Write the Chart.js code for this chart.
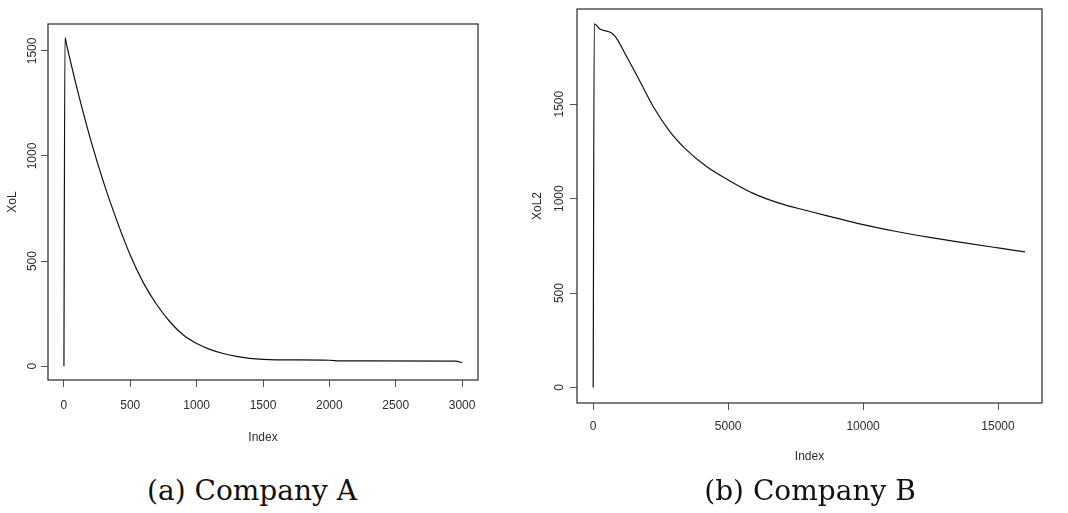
<!DOCTYPE html>
<html>
<head>
<meta charset="utf-8">
<script src="https://cdn.jsdelivr.net/npm/chart.js@4/dist/chart.umd.min.js"></script>
<style>
  html, body { margin: 0; padding: 0; background: #fff; }
  #wrap { position: relative; width: 1068px; height: 513px; overflow: hidden; }
  #cA { position: absolute; left: 0; top: 0; }
  #cB { position: absolute; left: 520px; top: 0; }
  .cap { position: absolute; top: 474px; font-family: 'DejaVu Serif', 'Liberation Serif', serif; font-size: 28px; color: #111; white-space: nowrap; transform: translateX(-50%); }
</style>
</head>
<body>
<div id="wrap">
  <canvas id="cA" width="500" height="460"></canvas>
  <canvas id="cB" width="548" height="480"></canvas>
  <div class="cap" style="left:252px">(a) Company A</div>
  <div class="cap" style="left:810px">(b) Company B</div>
</div>
<script>
// Company A: XoL against index
const idxA = [0, 8, 20, 100, 200, 300, 400, 500, 600, 700, 800, 900, 1000, 1100, 1200, 1300, 1400, 1500, 1600, 2000, 2080, 2950, 3000];
const xolA = [0, 1563, 1530, 1318, 1080, 872, 690, 528, 395, 292, 210, 148, 108, 80, 60, 46, 37, 32, 30, 28, 25, 24, 17];

// Company B: XoL2 against index
const idxB = [0, 40, 250, 680, 860, 1235, 1605, 2223, 2841, 3458, 4199, 5000, 5928, 6916, 7904, 9016, 10004, 11239, 12474, 13709, 15006, 16000];
const xolB = [0, 1926, 1898, 1877, 1850, 1753, 1656, 1488, 1355, 1258, 1170, 1099, 1028, 975, 937, 897, 862, 826, 795, 767, 739, 718];

const xTicksA = [0, 500, 1000, 1500, 2000, 2500, 3000];
const xTicksB = [0, 5000, 10000, 15000];
const yTicks = [0, 500, 1000, 1500];

const NARROW = "'Liberation Sans Narrow', 'Liberation Sans', Arial, sans-serif";
const SANS = "'Liberation Sans', Arial, sans-serif";
const TXT = '#2b2b36';

const boxPlugin = {
  id: 'box',
  afterDatasetsDraw(chart) {
    const { ctx, chartArea: a } = chart;
    ctx.save();
    ctx.strokeStyle = '#3a3a3a';
    ctx.lineWidth = 1.3;
    ctx.strokeRect(a.left, a.top, a.right - a.left, a.bottom - a.top);
    ctx.restore();
  }
};

function makePlot(id, xs, ys, opt) {
  const pts = xs.map((x, i) => ({ x, y: ys[i] }));
  return new Chart(document.getElementById(id), {
    type: 'line',
    data: { datasets: [{ data: pts, borderColor: '#111', borderWidth: 1.2, pointRadius: 0, fill: false, cubicInterpolationMode: 'monotone' }] },
    options: {
      responsive: false,
      animation: false,
      layout: { padding: opt.pad },
      plugins: { legend: { display: false }, tooltip: { enabled: false } },
      scales: {
        x: {
          type: 'linear', min: opt.xMin, max: opt.xMax,
          afterFit: s => { s.height = opt.xH; },
          afterBuildTicks: s => { s.ticks = opt.xTicks.map(v => ({ value: v })); },
          ticks: { maxRotation: 0, padding: opt.xPad, color: TXT, font: { family: NARROW, size: 12 }, callback: v => String(v) },
          grid: { drawOnChartArea: false, drawTicks: true, tickLength: 7, tickColor: '#555', tickWidth: 1 },
          border: { display: false },
          title: { display: true, text: 'Index', color: TXT, font: { family: NARROW, size: 12 }, padding: { top: 0, bottom: opt.xTitlePad } }
        },
        y: {
          type: 'linear', min: opt.yMin, max: opt.yMax,
          afterFit: s => { s.width = opt.yW; },
          afterBuildTicks: s => { s.ticks = yTicks.map(v => ({ value: v })); },
          ticks: { minRotation: 90, maxRotation: 90, crossAlign: 'center', padding: opt.yPad, color: TXT, font: { family: SANS, size: 12 }, callback: v => String(v) },
          grid: { drawOnChartArea: false, drawTicks: true, tickLength: 7, tickColor: '#555', tickWidth: 1 },
          border: { display: false },
          title: { display: true, text: opt.yTitle, color: TXT, font: { family: SANS, size: 12 }, padding: { top: opt.yTitlePad, bottom: 0 } }
        }
      }
    },
    plugins: [boxPlugin]
  });
}

makePlot('cA', idxA, xolA, {
  pad: { left: 0, top: 24, right: 22, bottom: 0 },
  xMin: -120, xMax: 3120, yMin: -66, yMax: 1628,
  xTicks: xTicksA, xH: 80, xPad: 11, xTitlePad: 15,
  yW: 48, yPad: -5, yTitle: 'XoL', yTitlePad: 5
});

makePlot('cB', idxB, xolB, {
  pad: { left: 0, top: 9, right: 26, bottom: 0 },
  xMin: -600, xMax: 16630, yMin: -82, yMax: 2004,
  xTicks: xTicksB, xH: 77, xPad: 9, xTitlePad: 16,
  yW: 57, yPad: -3, yTitle: 'XoL2', yTitlePad: 10
});
</script>
</body>
</html>
